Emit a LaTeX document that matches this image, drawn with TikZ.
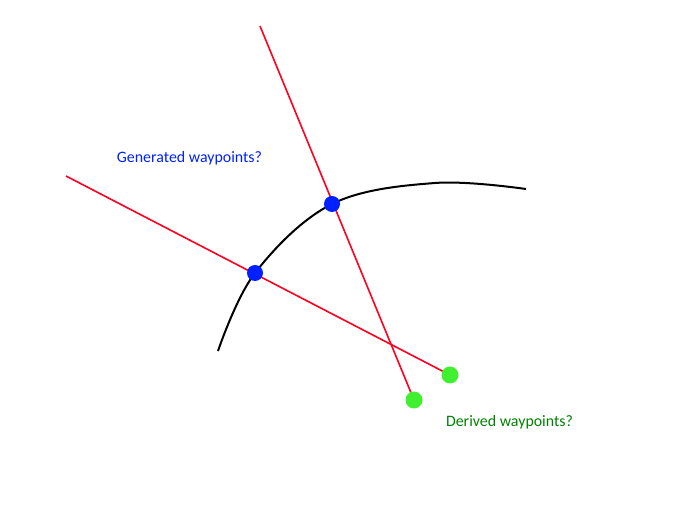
\documentclass[tikz,border=0pt]{standalone}
\usepackage{fontspec}
\setmainfont{Carlito}
\definecolor{wpblue}{RGB}{0,32,255}
\definecolor{wpgreen}{RGB}{64,240,48}
\definecolor{txtgreen}{RGB}{0,128,0}
\definecolor{rayred}{RGB}{255,0,32}
\begin{document}
\begin{tikzpicture}[x=1pt,y=-1pt,
  ray/.style={draw=rayred,line width=1.6pt},
  pathline/.style={draw=black,line width=2pt},
  bluept/.style={circle,fill=wpblue,inner sep=0pt,minimum size=16pt},
  greenpt/.style={circle,fill=wpgreen,inner sep=0pt,minimum size=17pt},
  lbl/.style={font=\fontsize{15.9}{18}\selectfont,inner sep=0pt}]
\useasboundingbox (0,0) rectangle (680,510);
\coordinate (r1s) at (66,176);
\coordinate (r2s) at (260,26);
\coordinate (b1) at (255,273);
\coordinate (b2) at (332,204);
\coordinate (g1) at (450,375);
\coordinate (g2) at (414,400);
\draw[ray] (r1s) -- (g1);
\draw[ray] (r2s) -- (g2);
\draw[pathline] plot[smooth,tension=0.6] coordinates {(218,351) (255,273) (332,204) (435,183) (526,189)};
\node[bluept] (n1) at (b1) {};
\node[bluept] (n2) at (b2) {};
\node[greenpt] (m1) at (g1) {};
\node[greenpt] (m2) at (g2) {};
\node[lbl,text=wpblue] (t1) at (189.5,158) {Generated waypoints?};
\node[lbl,text=txtgreen] (t2) at (509.5,422) {Derived waypoints?};
\end{tikzpicture}
\end{document}
